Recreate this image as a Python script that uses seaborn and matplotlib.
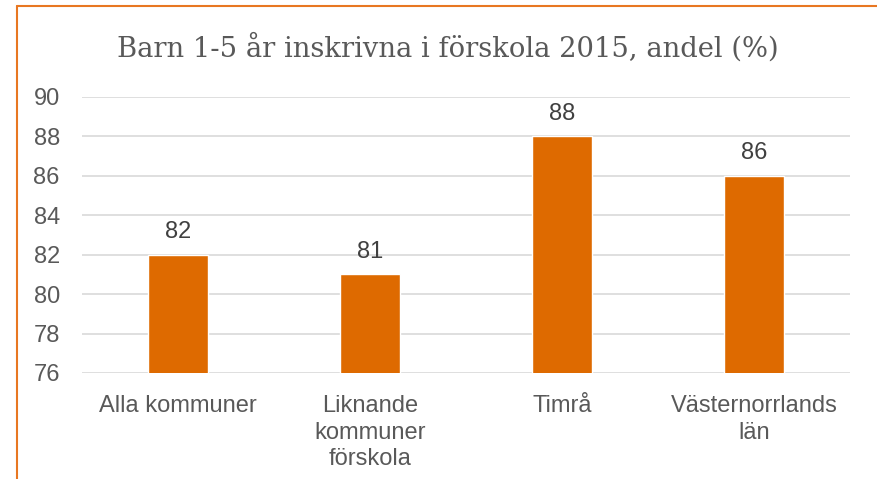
import matplotlib
matplotlib.use("Agg")
import matplotlib.pyplot as plt
import seaborn as sns
import pandas as pd
from matplotlib.lines import Line2D

categories = ["Alla kommuner", "Liknande\nkommuner\nförskola", "Timrå", "Västernorrlands\nlän"]
values = [82, 81, 88, 86]
yticks = [76, 78, 80, 82, 84, 86, 88, 90]
title = "Barn 1-5 år inskrivna i förskola 2015, andel (%)"

sns.set_style("white")
plt.rcParams["font.family"] = ["Liberation Sans", "DejaVu Sans"]

df = pd.DataFrame({"kategori": categories, "andel": values})

fig = plt.figure(figsize=(8.78, 4.79), dpi=100)
ax = fig.add_axes([0.0934, 0.2213, 0.8746, 0.5762])

sns.barplot(data=df, x="kategori", y="andel", color="#DE6A00",
            width=0.31, saturation=1, ax=ax, zorder=3)

ax.set_ylim(76, 90)
ax.set_xlim(-0.5, 3.5)
ax.set_yticks(yticks)
ax.grid(axis="y", color="#D9D9D9", linewidth=1.2, zorder=0)
ax.set_xlabel("")
ax.set_ylabel("")
for s in ax.spines.values():
    s.set_visible(False)
ax.tick_params(axis="both", length=0, labelsize=17, colors="#595959")
ax.tick_params(axis="y", pad=16)
ax.tick_params(axis="x", pad=16)
for lbl in ax.get_xticklabels():
    lbl.set_linespacing(1.27)

for i, v in enumerate(values):
    ax.annotate(str(v), (i, v), xytext=(0, 16.5), textcoords="offset points",
                ha="center", va="center", fontsize=17, color="#404040")

fig.text(0.51, 0.9, title, ha="center", va="center", fontsize=19.7,
         color="#595959", family=["DejaVu Serif"])

# orange frame (top and left only visible in the crop)
fig.add_artist(Line2D([0.0188, 1.0], [0.9875, 0.9875], color="#E87722",
                      linewidth=1.5, transform=fig.transFigure))
fig.add_artist(Line2D([0.0188, 0.0188], [0.0, 0.9875], color="#E87722",
                      linewidth=1.5, transform=fig.transFigure))

fig.savefig("out.png", dpi=100)
